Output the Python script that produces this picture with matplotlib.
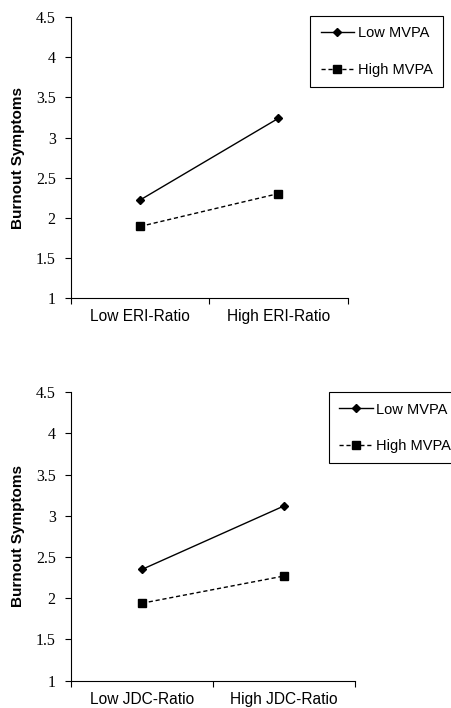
import matplotlib.pyplot as plt

# data
groups = ['Low MVPA', 'High MVPA']
eri_labels = ['Low ERI-Ratio', 'High ERI-Ratio']
eri_low_mvpa = [2.22, 3.24]
eri_high_mvpa = [1.89, 2.30]
jdc_labels = ['Low JDC-Ratio', 'High JDC-Ratio']
jdc_low_mvpa = [2.35, 3.12]
jdc_high_mvpa = [1.94, 2.27]
yticks = [1, 1.5, 2, 2.5, 3, 3.5, 4, 4.5]

sans = 'Liberation Sans'
serif = 'Liberation Serif'

fig = plt.figure(figsize=(4.52, 7.08), dpi=100)


def draw(rect, labels, low, high, leg_anchor):
    ax = fig.add_axes(rect)
    x = [0.5, 1.5]
    ax.plot(x, low, color='black', lw=1, marker='D', ms=4.5, label=groups[0])
    ax.plot(x, high, color='black', lw=1, ls=(0, (3, 2)), marker='s', ms=6,
            label=groups[1])
    ax.set_xlim(0, 2)
    ax.set_ylim(1, 4.5)
    ax.set_yticks(yticks)
    ax.set_yticklabels([f'{v:g}' for v in yticks], family=serif, fontsize=11.5)
    ax.set_xticks([0, 1, 2])
    ax.set_xticklabels([])
    ax.set_xticks(x, minor=True)
    ax.set_xticklabels(labels, minor=True, family=sans, fontsize=11.2)
    ax.tick_params(axis='x', which='minor', length=0, pad=8)
    ax.tick_params(axis='x', which='major', length=4, width=0.8)
    ax.tick_params(axis='y', length=4, width=0.8, pad=7)
    for s in ['top', 'right']:
        ax.spines[s].set_visible(False)
    ax.set_ylabel('Burnout Symptoms', family=sans, fontsize=11,
                  fontweight='bold', labelpad=8)
    leg = ax.legend(loc='upper left', bbox_to_anchor=leg_anchor,
                    bbox_transform=fig.transFigure, borderaxespad=0,
                    prop={'family': sans, 'size': 10.5}, fancybox=False,
                    edgecolor='black', framealpha=1, labelspacing=1.55,
                    handlelength=2.3, handletextpad=0.25, borderpad=0.7)
    leg.get_frame().set_linewidth(0.8)
    return ax


draw([0.157, 0.5795, 0.612, 0.396], eri_labels, eri_low_mvpa, eri_high_mvpa,
     (0.6865, 0.977))
draw([0.157, 0.0386, 0.628, 0.4073], jdc_labels, jdc_low_mvpa, jdc_high_mvpa,
     (0.7275, 0.4459))

plt.savefig('out.png', dpi=100)
